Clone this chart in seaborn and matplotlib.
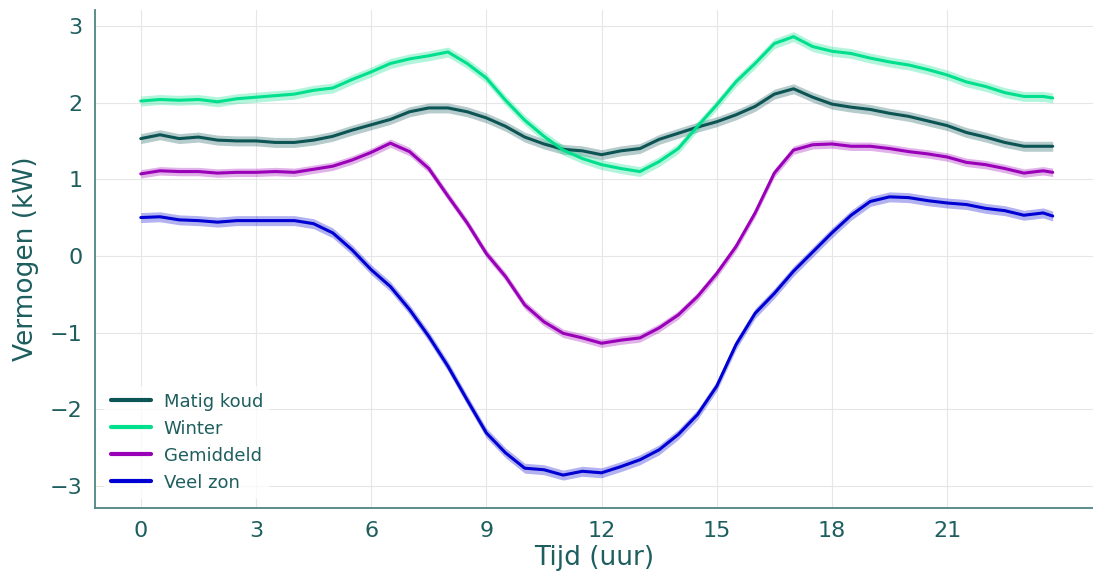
import numpy as np
import pandas as pd
import matplotlib
matplotlib.use('Agg')
import matplotlib.pyplot as plt
import seaborn as sns

# tijd in uren (halfuurswaarden, laatste punt 23:45)
uren = [0, 0.5, 1, 1.5, 2, 2.5, 3, 3.5, 4, 4.5, 5, 5.5, 6, 6.5, 7, 7.5, 8, 8.5,
        9, 9.5, 10, 10.5, 11, 11.5, 12, 12.5, 13, 13.5, 14, 14.5, 15, 15.5, 16,
        16.5, 17, 17.5, 18, 18.5, 19, 19.5, 20, 20.5, 21, 21.5, 22, 22.5, 23,
        23.5, 23.75]

matig_koud = [1.53, 1.58, 1.53, 1.55, 1.51, 1.50, 1.50, 1.48, 1.48, 1.51, 1.56,
              1.64, 1.71, 1.78, 1.88, 1.93, 1.93, 1.88, 1.80, 1.69, 1.55, 1.46,
              1.39, 1.37, 1.32, 1.37, 1.40, 1.52, 1.60, 1.68, 1.75, 1.84, 1.95,
              2.11, 2.18, 2.07, 1.98, 1.94, 1.91, 1.86, 1.82, 1.76, 1.70, 1.61,
              1.55, 1.48, 1.43, 1.43, 1.43]
winter = [2.02, 2.04, 2.03, 2.04, 2.01, 2.05, 2.07, 2.09, 2.11, 2.16, 2.19, 2.30,
          2.40, 2.51, 2.57, 2.61, 2.66, 2.51, 2.32, 2.03, 1.77, 1.56, 1.38, 1.27,
          1.19, 1.14, 1.10, 1.23, 1.40, 1.69, 1.97, 2.27, 2.51, 2.77, 2.86, 2.73,
          2.67, 2.64, 2.58, 2.53, 2.49, 2.43, 2.36, 2.27, 2.21, 2.13, 2.08, 2.08,
          2.06]
gemiddeld = [1.07, 1.11, 1.10, 1.10, 1.08, 1.09, 1.09, 1.10, 1.09, 1.13, 1.17,
             1.25, 1.35, 1.47, 1.36, 1.14, 0.78, 0.43, 0.03, -0.27, -0.64, -0.86,
             -1.01, -1.07, -1.14, -1.10, -1.07, -0.94, -0.77, -0.53, -0.23, 0.12,
             0.56, 1.08, 1.38, 1.45, 1.46, 1.43, 1.43, 1.40, 1.36, 1.33, 1.29,
             1.22, 1.19, 1.14, 1.08, 1.11, 1.09]
veel_zon = [0.50, 0.51, 0.47, 0.46, 0.44, 0.46, 0.46, 0.46, 0.46, 0.42, 0.30,
            0.08, -0.18, -0.40, -0.70, -1.05, -1.44, -1.88, -2.31, -2.57, -2.77,
            -2.79, -2.86, -2.81, -2.83, -2.75, -2.66, -2.53, -2.33, -2.07, -1.70,
            -1.16, -0.75, -0.49, -0.20, 0.05, 0.30, 0.53, 0.71, 0.77, 0.76, 0.72,
            0.69, 0.67, 0.62, 0.59, 0.53, 0.56, 0.52]

scenarios = ['Matig koud', 'Winter', 'Gemiddeld', 'Veel zon']
reeksen = [matig_koud, winter, gemiddeld, veel_zon]
banden = [0.065, 0.065, 0.055, 0.065]  # halve breedte betrouwbaarheidsband (kW)
kleuren = ['#0d5454', '#00e08c', '#9a00b8', '#0000d2']
tekst = '#1e5e5e'

df = pd.concat([pd.DataFrame({'Tijd': uren, 'Vermogen': r, 'Scenario': s})
                for s, r in zip(scenarios, reeksen)], ignore_index=True)

sns.set_style('whitegrid', {'grid.color': '#e6e6e6'})
plt.rcParams['font.family'] = ['DejaVu Sans']

fig, ax = plt.subplots(figsize=(10.93, 5.78), dpi=100)
fig.subplots_adjust(left=0.087, right=1.0, top=0.983, bottom=0.121)

sns.lineplot(data=df, x='Tijd', y='Vermogen', hue='Scenario', palette=kleuren,
             hue_order=scenarios, linewidth=2.2, errorbar=None, ax=ax)
for s, r, b, k in zip(scenarios, reeksen, banden, kleuren):
    r = np.array(r)
    ax.fill_between(uren, r - b, r + b, color=k, alpha=0.3, linewidth=0)

ax.set_xlim(-1.19, 24.8)
ax.set_ylim(-3.29, 3.21)
ax.set_xticks(range(0, 22, 3))
ax.set_yticks(range(-3, 4))
ax.set_xlabel('Tijd (uur)', fontsize=19, color=tekst, labelpad=3)
ax.set_ylabel('Vermogen (kW)', fontsize=19, color=tekst, labelpad=8)
ax.tick_params(axis='both', labelsize=16, colors=tekst, length=0, pad=9)

sns.despine(ax=ax)
for sp in ['left', 'bottom']:
    ax.spines[sp].set_color('#4d8585')
    ax.spines[sp].set_linewidth(1.3)

leg = ax.legend(loc='lower left', fontsize=13, frameon=True, handlelength=2.2,
                handletextpad=0.7, borderaxespad=0.5, labelspacing=0.5)
leg.get_frame().set_edgecolor('none')
leg.get_frame().set_alpha(0.8)
for t in leg.get_texts():
    t.set_color(tekst)
for l in leg.get_lines():
    l.set_linewidth(3)

plt.savefig('out.png', dpi=100)
